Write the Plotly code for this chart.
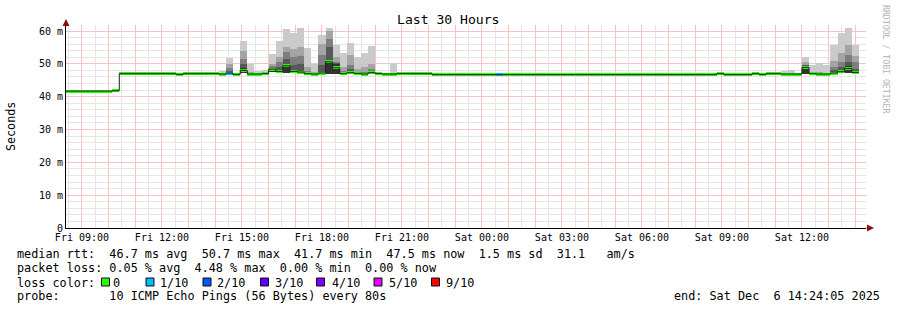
import pandas as pd
import plotly.graph_objects as go

# ---------------- data ----------------
range_start = "2025-12-05 08:24:05"
range_end = "2025-12-06 14:24:05"
first_bin = "2025-12-05 08:16:00"
bin_minutes = 16

# median RTT per 16-minute bin (ms)
median_ms = [
    41.7, 41.7, 41.7, 41.7, 41.7, 41.7, 41.7, 41.8,             # 0-7
    47.0, 47.0, 47.0, 47.0, 47.0, 47.0, 47.0, 47.0,             # 8-15
    46.8, 47.0, 47.0, 47.0, 47.0, 47.0, 46.9, 47.2,             # 16-23
    46.8, 48.0, 46.9, 46.9, 47.0, 48.4, 47.7, 49.4,             # 24-31
    47.7, 47.5, 47.0, 46.9, 47.2, 50.6, 48.8, 47.0,             # 32-39
    47.3, 47.1, 46.9, 47.3, 47.0, 46.9, 46.9, 47.0,             # 40-47
    47.0, 47.0, 47.0, 47.0, 46.7, 46.7, 46.7, 46.7,             # 48-55
    46.7, 46.7, 46.7, 46.7, 46.7, 46.7, 46.7, 46.7,             # 56-63
    46.7, 46.7, 46.7, 46.7, 46.7, 46.7, 46.7, 46.7,             # 64-71
    46.7, 46.7, 46.7, 46.7, 46.7, 46.7, 46.7, 46.7,             # 72-79
    46.7, 46.7, 46.7, 46.7, 46.7, 46.7, 46.7, 46.7,             # 80-87
    46.7, 46.7, 46.7, 46.7, 47.0, 46.7, 46.7, 46.7,             # 88-95
    46.7, 47.0, 46.8, 47.0, 47.0, 46.9, 46.9, 46.9,             # 96-103
    48.9, 47.0, 46.9, 46.9, 47.2, 47.6, 48.6, 47.4,             # 104-111
]

# packet loss (in tenths) for the bins that lost pings
loss_bins = [23, 61]
loss_tenths = [1, 1]

# smoke (ping distribution) for bins with visible spread (ms)
smoke_bins = [22, 23, 25, 26, 27, 28, 29, 30, 31, 32, 33, 34, 35, 36, 37, 38,
              39, 40, 41, 42, 43, 46, 101, 102, 104, 105, 106, 107, 108, 109, 110, 111]
ping_max = [47.8, 51.9, 57.0, 50.0, 47.7, 48.1, 52.9, 57.0, 60.7, 59.5, 60.8, 54.9, 50.0, 58.8, 61.0, 55.7,
            53.3, 56.4, 52.2, 53.4, 55.4, 50.4, 47.7, 48.0, 52.1, 49.7, 50.4, 49.7, 55.8, 59.4, 60.9, 55.8]
ping_p9 = [47.2, 50.1, 53.9, 47.4, 47.2, 47.4, 50.1, 52.0, 55.0, 54.5, 55.2, 49.0, 47.5, 55.9, 60.1, 52.1,
           49.0, 52.6, 48.5, 49.0, 50.0, 47.3, 47.2, 47.3, 50.6, 47.4, 47.5, 47.3, 50.9, 53.3, 55.6, 52.5]
ping_p8 = [47.1, 48.7, 51.5, 47.2, 47.1, 47.2, 49.2, 50.5, 53.5, 52.0, 52.5, 47.8, 47.2, 52.6, 57.7, 50.5,
           47.8, 49.5, 47.6, 47.6, 48.5, 47.1, 47.0, 47.1, 49.8, 47.2, 47.2, 47.1, 49.0, 50.5, 52.6, 50.5]
ping_p7 = [47.0, 47.9, 49.9, 47.1, 47.0, 47.1, 48.8, 49.0, 51.5, 49.5, 50.0, 47.4, 47.1, 49.5, 55.0, 50.2,
           47.4, 48.3, 47.3, 47.2, 47.8, 47.0, 46.95, 47.0, 49.5, 47.1, 47.0, 47.0, 48.0, 49.0, 50.5, 48.5]
ping_p6 = [46.95, 47.5, 48.6, 47.0, 46.95, 47.05, 48.6, 48.0, 49.8, 48.0, 47.9, 47.2, 47.0, 47.6, 50.9, 49.9,
           47.2, 47.6, 47.2, 47.0, 47.6, 46.95, 46.9, 46.95, 49.2, 47.05, 46.95, 46.95, 47.5, 48.0, 49.2, 47.8]
ping_min = [46.7, 46.8, 47.2, 46.7, 46.7, 46.8, 47.4, 47.2, 47.3, 47.2, 47.0, 46.8, 46.7, 46.9, 47.0, 47.0,
            46.8, 46.9, 46.8, 46.6, 47.0, 46.7, 46.7, 46.7, 46.8, 46.8, 46.7, 46.7, 46.9, 47.1, 47.3, 47.0]

y_ticks = [0, 10, 20, 30, 40, 50, 60]
y_tick_text = ["0", "10 m", "20 m", "30 m", "40 m", "50 m", "60 m"]
y_minor = [2, 4, 6, 8, 12, 14, 16, 18, 22, 24, 26, 28, 32, 34, 36, 38,
           42, 44, 46, 48, 52, 54, 56, 58]

legend_rtt = "median rtt:  46.7 ms avg  50.7 ms max  41.7 ms min  47.5 ms now  1.5 ms sd  31.1   am/s"
legend_loss = "packet loss: 0.05 % avg  4.48 % max  0.00 % min  0.00 % now"
legend_probe = "probe:       10 ICMP Echo Pings (56 Bytes) every 80s"
legend_end = "end: Sat Dec  6 14:24:05 2025"
loss_labels = ["0", "1/10", "2/10", "3/10", "4/10", "5/10", "9/10"]
loss_colors = ["#26ff00", "#00b8ff", "#0059ff", "#5e00ff", "#7e00ff", "#dd00ff", "#ff0000"]

# ---------------- layout geometry ----------------
W, H = 897, 310
ML, MR, MT, MB = 66, 31, 25, 82
PW = W - ML - MR
PH = H - MT - MB
Y_MAX = 61.83
FONT = "DejaVu Sans Mono"


def px(x):
    return (x - ML) / PW


def py(y):
    return (MT + PH - y) / PH


def nb(s):
    return s.replace(" ", "\u00a0")


step = pd.Timedelta(minutes=bin_minutes)
starts = pd.date_range(first_bin, periods=len(median_ms), freq=f"{bin_minutes}min")
centers = starts + step / 2
width_ms = bin_minutes * 60 * 1000

fig = go.Figure()

# smoke layers, outermost (lightest) first
smoke_x = [centers[i] for i in smoke_bins]
layers = [ping_max, ping_p9, ping_p8, ping_p7, ping_p6]
shades = ["#cacaca", "#a4a4a4", "#7e7e7e", "#585858", "#323232"]
for top, shade in zip(layers, shades):
    fig.add_trace(go.Bar(
        x=smoke_x, y=[t - b for t, b in zip(top, ping_min)], base=ping_min,
        width=width_ms, marker=dict(color=shade, line=dict(width=0)),
        hoverinfo="skip", showlegend=False))

# median step line
fig.add_trace(go.Scatter(
    x=list(starts) + [starts[-1] + step], y=median_ms + [median_ms[-1]],
    mode="lines", line=dict(color="#202020", width=1, shape="hv"),
    hoverinfo="skip", showlegend=False))

# loss-coloured median band
band_colors = [loss_colors[0]] * len(median_ms)
for b, l in zip(loss_bins, loss_tenths):
    band_colors[b] = loss_colors[l]
band_h = 0.9
fig.add_trace(go.Bar(
    x=list(centers), y=[band_h] * len(median_ms), base=[m - band_h / 2 for m in median_ms],
    width=width_ms, marker=dict(color=band_colors, line=dict(width=0)),
    hoverinfo="skip", showlegend=False))

hour_ticks = pd.date_range("2025-12-05 09:00", "2025-12-06 14:00", freq="h")
hour_text = [t.strftime("%a %H:%M") if t.hour % 3 == 0 else "" for t in hour_ticks]
half_hours = pd.date_range("2025-12-05 08:30", "2025-12-06 14:00", freq="h")

RED = "#f7c4c4"
GRAY = "#e6e6e6"

fig.update_layout(
    width=W, height=H,
    margin=dict(l=ML, r=MR, t=MT, b=MB, pad=0),
    paper_bgcolor="white", plot_bgcolor="white",
    barmode="overlay", bargap=0,
    showlegend=False,
    font=dict(family=FONT, color="black"),
    xaxis=dict(
        type="date", range=[range_start, range_end],
        tickmode="array", tickvals=list(hour_ticks), ticktext=hour_text,
        showgrid=True, gridcolor=RED, gridwidth=1,
        minor=dict(tickmode="array", tickvals=list(half_hours), showgrid=True,
                   gridcolor=GRAY, gridwidth=1, ticks=""),
        showline=True, linecolor="black", linewidth=1, ticks="", zeroline=False,
        tickfont=dict(family=FONT, size=10, color="black"),
    ),
    yaxis=dict(
        range=[0, Y_MAX], tickmode="array", tickvals=y_ticks, ticktext=y_tick_text,
        showgrid=True, gridcolor=RED, gridwidth=1,
        minor=dict(tickmode="array", tickvals=y_minor, showgrid=True, gridcolor=GRAY,
                   gridwidth=1, ticks=""),
        showline=True, linecolor="black", linewidth=1, ticks="", zeroline=False,
        tickfont=dict(family=FONT, size=10, color="black"),
    ),
)

ann = []
ann.append(dict(x=px(448), y=py(19), text="Last 30 Hours", showarrow=False,
                xanchor="center", yanchor="middle", font=dict(size=13.1)))
ann.append(dict(x=px(11), y=py(126), text="Seconds", showarrow=False, textangle=-90,
                xanchor="center", yanchor="middle", font=dict(size=11.7)))
ann.append(dict(x=px(886), y=py(60), text=nb("RRDTOOL / TOBI OETIKER"), showarrow=False,
                textangle=90, xanchor="center", yanchor="middle",
                font=dict(size=8.2, color="#b4b4b4")))
for txt, yy in [(legend_rtt, 254), (legend_loss, 268), ("loss color:", 282.5), (legend_probe, 296)]:
    ann.append(dict(x=px(16), y=py(yy), text=nb(txt), showarrow=False,
                    xanchor="left", yanchor="middle", font=dict(size=11.8), borderpad=0))
ann.append(dict(x=px(881), y=py(296), text=nb(legend_end), showarrow=False,
                xanchor="right", yanchor="middle", font=dict(size=11.8), borderpad=0))

box_x = [101.5, 146, 203, 260.5, 316.5, 374, 431.5]
label_x = [112.0, 158.5, 216.0, 273.5, 330.5, 387.5, 445.0]
shapes = []
for bx, lx, lab, col in zip(box_x, label_x, loss_labels, loss_colors):
    shapes.append(dict(type="rect", xref="paper", yref="paper",
                       x0=px(bx), x1=px(bx + 8), y0=py(286), y1=py(278),
                       fillcolor=col, line=dict(color="#101010", width=1)))
    ann.append(dict(x=px(lx), y=py(282.5), text=nb(lab), showarrow=False,
                    xanchor="left", yanchor="middle", font=dict(size=11.8), borderpad=0))

# axis arrows
ann.append(dict(x=px(874), y=0, xref="paper", yref="paper", text="", showarrow=True,
                ax=-9, ay=0, arrowhead=2, arrowsize=1.4, arrowwidth=1, arrowcolor="#8b1010"))
ann.append(dict(x=0, y=py(19), xref="paper", yref="paper", text="", showarrow=True,
                ax=0, ay=9, arrowhead=2, arrowsize=1.4, arrowwidth=1, arrowcolor="#8b1010"))

for a in ann:
    a.setdefault("xref", "paper")
    a.setdefault("yref", "paper")
fig.update_layout(annotations=ann, shapes=shapes)

fig.write_html("out.html")
